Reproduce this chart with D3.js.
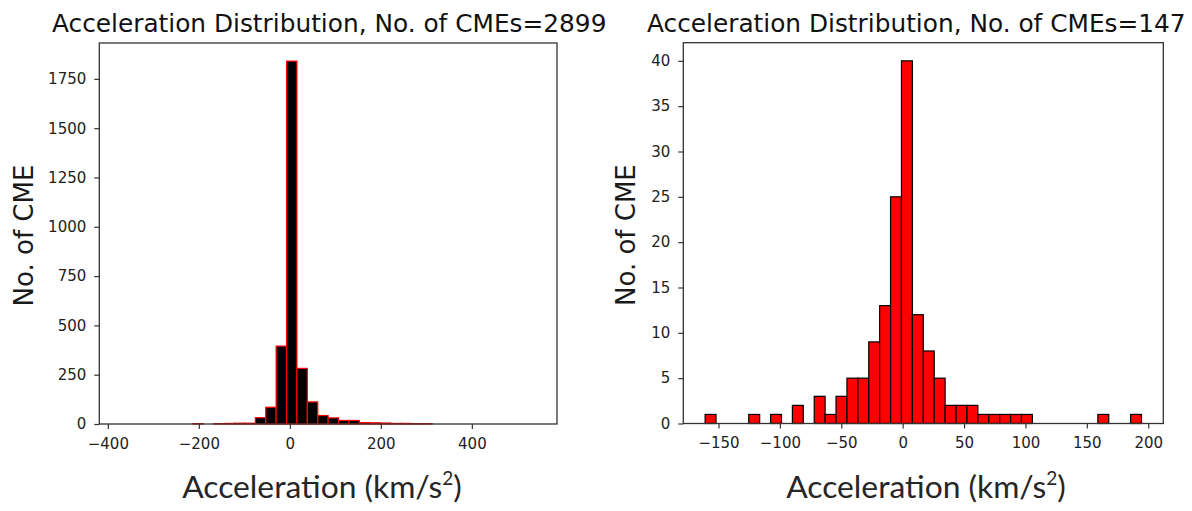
<!DOCTYPE html>
<html>
<head>
<meta charset="utf-8">
<script src="https://cdnjs.cloudflare.com/ajax/libs/d3/7.8.5/d3.min.js"></script>
<style>
body { margin: 0; background: #fff; }
</style>
</head>
<body>
<div id="chart"></div>
<script>
// left panel: all CMEs, 40 bins
var leftTitle = "Acceleration Distribution, No. of CMEs=2899";
var leftRange = [-373, 541.4];
var leftCounts = [0, 0, 0, 0, 0, 0, 0, 2, 0, 2,
                  3, 4, 4, 32, 85, 395, 1840, 282, 112, 43,
                  31, 18, 18, 7, 6, 5, 3, 3, 2, 2,
                  0, 0, 0, 0, 0, 0, 0, 0, 0, 0];
var leftXTicks = [-400, -200, 0, 200, 400];
var leftYTicks = [0, 250, 500, 750, 1000, 1250, 1500, 1750];

// right panel: subset, 40 bins
var rightTitle = "Acceleration Distribution, No. of CMEs=147";
var rightRange = [-160.9, 194.5];
var rightCounts = [1, 0, 0, 0, 1, 0, 1, 0, 2, 0,
                   3, 1, 3, 5, 5, 9, 13, 25, 40, 12,
                   8, 5, 2, 2, 2, 1, 1, 1, 1, 1,
                   0, 0, 0, 0, 0, 0, 1, 0, 0, 1];
var rightXTicks = [-150, -100, -50, 0, 50, 100, 150, 200];
var rightYTicks = [0, 5, 10, 15, 20, 25, 30, 35, 40];

var yLabel = "No. of CME";
var xLabel = "Acceleration (km/s";
var xLabelSup = "2";

var svg = d3.select("#chart")
    .append("svg")
    .attr("width", 1192)
    .attr("height", 511);

function draw_hist(opt) {
    var g = svg.append("g");
    var n = opt.counts.length;
    var span = opt.range[1] - opt.range[0];
    var binW = span / n;
    var pad = span * 0.05;

    var x = d3.scaleLinear()
        .domain([opt.range[0] - pad, opt.range[1] + pad])
        .range([opt.left, opt.right]);
    var y = d3.scaleLinear()
        .domain([0, d3.max(opt.counts) * 1.05])
        .range([opt.bottom, opt.top]);

    var bins = opt.counts.map(function(c, i) {
        return { x0: opt.range[0] + i * binW, x1: opt.range[0] + (i + 1) * binW, count: c };
    });

    g.selectAll("rect.bar")
        .data(bins.filter(function(d) { return d.count > 0; }))
        .enter()
        .append("rect")
        .attr("class", "bar")
        .attr("x", function(d) { return x(d.x0); })
        .attr("y", function(d) { return y(d.count); })
        .attr("width", function(d) { return x(d.x1) - x(d.x0); })
        .attr("height", function(d) { return y(0) - y(d.count); })
        .style("fill", opt.fill)
        .style("stroke", opt.edge)
        .style("stroke-width", 1.2);

    var fmt = d3.format("d");
    var xa = g.append("g")
        .attr("transform", "translate(0," + opt.bottom + ")")
        .call(d3.axisBottom(x).tickValues(opt.xTicks).tickFormat(fmt).tickSize(5).tickPadding(9));
    var ya = g.append("g")
        .attr("transform", "translate(" + opt.left + ",0)")
        .call(d3.axisLeft(y).tickValues(opt.yTicks).tickFormat(fmt).tickSize(5).tickPadding(8));

    [xa, ya].forEach(function(a) {
        a.select(".domain").remove();
        a.selectAll("line").attr("stroke", "#333").attr("stroke-width", 1.2);
        a.selectAll("text")
            .style("font-family", "DejaVu Sans")
            .style("font-size", "15px")
            .attr("fill", "#222");
    });

    // frame
    g.append("rect")
        .attr("x", opt.left)
        .attr("y", opt.top)
        .attr("width", opt.right - opt.left)
        .attr("height", opt.bottom - opt.top)
        .attr("fill", "none")
        .attr("stroke", "#333")
        .attr("stroke-width", 1.3);

    g.append("text")
        .attr("x", opt.titleX)
        .attr("y", 32)
        .style("font-family", "DejaVu Sans")
        .style("font-size", "24.8px")
        .style("fill", "#111")
        .text(opt.title);

    g.append("text")
        .attr("transform", "translate(" + opt.yLabelX + "," + ((opt.top + opt.bottom) / 2 + 2) + ") rotate(-90)")
        .attr("text-anchor", "middle")
        .style("font-family", "DejaVu Sans")
        .style("font-size", "26px")
        .style("fill", "#1a1a1a")
        .text(yLabel);

    var xl = g.append("text")
        .attr("x", opt.xLabelX)
        .attr("y", 498)
        .attr("text-anchor", "middle")
        .style("font-family", "Lato")
        .style("font-size", "31.8px")
        .style("fill", "#262626");
    xl.append("tspan").text(xLabel);
    xl.append("tspan").attr("dy", -13).style("font-size", "19px").text(xLabelSup);
    xl.append("tspan").attr("dy", 13).text(")");
}

draw_hist({
    counts: leftCounts, range: leftRange, xTicks: leftXTicks, yTicks: leftYTicks,
    title: leftTitle, fill: "#000", edge: "#ff0000",
    left: 99.3, right: 557, top: 43, bottom: 424,
    titleX: 52, yLabelX: 33, xLabelX: 322
});

draw_hist({
    counts: rightCounts, range: rightRange, xTicks: rightXTicks, yTicks: rightYTicks,
    title: rightTitle, fill: "#ff0000", edge: "#000",
    left: 683.3, right: 1163.3, top: 42.7, bottom: 423.5,
    titleX: 647, yLabelX: 635, xLabelX: 926
});
</script>
</body>
</html>
